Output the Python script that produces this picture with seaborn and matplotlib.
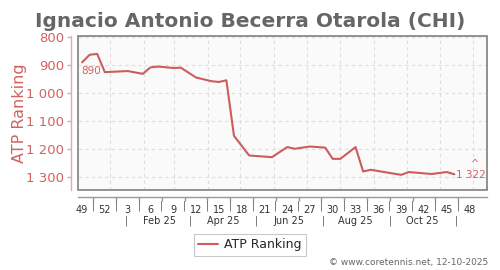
import datetime as dt
import matplotlib
matplotlib.use("Agg")
import matplotlib.pyplot as plt
import matplotlib.ticker as mticker
from matplotlib.patches import Rectangle
import pandas as pd
import seaborn as sns

# ---- data ----
title = "Ignacio Antonio Becerra Otarola (CHI)"
weeks = ["2024-W49", "2024-W50", "2024-W51", "2024-W52", "2025-W03", "2025-W05",
         "2025-W06", "2025-W07", "2025-W09", "2025-W10", "2025-W12", "2025-W14",
         "2025-W15", "2025-W16", "2025-W17", "2025-W19", "2025-W22", "2025-W24",
         "2025-W25", "2025-W27", "2025-W29", "2025-W30", "2025-W31", "2025-W33",
         "2025-W34", "2025-W35", "2025-W39", "2025-W40", "2025-W43", "2025-W45",
         "2025-W46"]
ranking = [890, 863, 860, 925, 921, 931, 908, 905, 910, 909, 944, 957,
           960, 954, 1152, 1222, 1228, 1192, 1198, 1190, 1194, 1234, 1234,
           1192, 1279, 1273, 1291, 1281, 1288, 1281, 1289]
week_tick_labels = ["49", "52", "3", "6", "9", "12", "15", "18", "21", "24",
                    "27", "30", "33", "36", "39", "42", "45", "48"]
month_labels = ["Feb 25", "Apr 25", "Jun 25", "Aug 25", "Oct 25"]
first_label = "890"
last_label = "1 322"
series_name = "ATP Ranking"
credit = "\u00a9 www.coretennis.net, 12-10-2025"

# ---- helpers ----
ORIGIN = dt.date(2024, 12, 6)


def week_x(label):
    y, w = label.split("-W")
    d = dt.date.fromisocalendar(int(y), int(w), 5)
    return (d - ORIGIN).days / 7


def date_x(d):
    return (d - ORIGIN).days / 7


RED = "#cd5c5c"
TXT_RED = "#d06262"

df = pd.DataFrame({"x": [week_x(w) for w in weeks], series_name: ranking})

sns.set_style("white")
plt.rcParams["font.family"] = ["DejaVu Sans"]

fig = plt.figure(figsize=(5, 2.7), dpi=100)
ax = fig.add_axes([0.156, 0.2963, 0.818, 0.5715])
ax.set_facecolor("#fafafa")

sns.lineplot(data=df, x="x", y=series_name, ax=ax, color=RED, lw=1.5,
             label=series_name, legend=False)

ax.set_xlim(-0.53, 53.3)
ax.set_ylim(1345, 795)

# horizontal grid
ax.set_yticks([800, 900, 1000, 1100, 1200, 1300])
ax.yaxis.set_major_formatter(mticker.FuncFormatter(
    lambda v, p: f"{int(v):,}".replace(",", " ")))
ax.grid(axis="y", color="#dddddd", ls=(0, (3, 3)), lw=0.8)
# vertical grid at month starts
for m in range(1, 13):
    ax.axvline(date_x(dt.date(2025, m, 1)), color="#dddddd", ls=(0, (3, 3)),
               lw=0.8, zorder=0)

# box
for s in ["top", "right"]:
    ax.spines[s].set_visible(False)
ax.add_patch(Rectangle((0, 0), 1, 1, transform=ax.transAxes, fill=False,
                       edgecolor="#808080", lw=1.2, clip_on=False, zorder=5))

# offset axis lines
ax.spines["left"].set_position(("outward", 5))
ax.spines["left"].set_color("#e3aaaa")
ax.spines["left"].set_linewidth(1)
ax.spines["bottom"].set_position(("outward", 5))
ax.spines["bottom"].set_color("#999999")
ax.spines["bottom"].set_linewidth(1)

ax.tick_params(axis="y", colors="#e3aaaa", labelcolor=TXT_RED, labelsize=9.5,
               length=3, width=1, pad=2, left=True)

# x ticks
week_pos = [3 * i for i in range(len(week_tick_labels))]
ax.set_xticks(week_pos)
ax.set_xticklabels(week_tick_labels)
ax.tick_params(axis="x", length=0, labelsize=7, labelcolor="#333333", pad=6,
               bottom=True)
sep_pos = [p + 1.5 for p in week_pos[:-1]]
ax.set_xticks(sep_pos, minor=True)
ax.tick_params(axis="x", which="minor", length=3, color="#999999", width=1,
               bottom=True)
tr = ax.get_xaxis_transform()
for p in sep_pos:
    ax.text(p, -0.1, "|", transform=tr, ha="center", va="center",
            fontsize=7, color="#555555")

# month row
for i, lab in enumerate(month_labels):
    ax.text(date_x(dt.date(2025, 2 + 2 * i, 15)), -0.2, lab, transform=tr,
            ha="center", va="center", fontsize=7, color="#333333")
for m in [1, 3, 5, 7, 9, 11]:
    ax.text(date_x(dt.date(2025, m, 16)), -0.2, "|", transform=tr,
            ha="center", va="center", fontsize=7, color="#555555")

ax.set_xlabel("")
ax.set_ylabel(series_name, color=TXT_RED, fontsize=11.5)
ax.yaxis.set_label_coords(-0.125, 0.5)

# point annotations
x0, y0 = df["x"].iloc[0], df[series_name].iloc[0]
ax.annotate(first_label, (x0, y0), xytext=(9, -9), textcoords="offset pixels",
            ha="center", va="center", fontsize=7.5, color=TXT_RED)
x1, y1 = df["x"].iloc[-1], df[series_name].iloc[-1]
ax.annotate(last_label, (x1, y1), xytext=(17, -1), textcoords="offset pixels",
            ha="center", va="center", fontsize=7.5, color=TXT_RED)
ax.annotate("^", (x1, y1), xytext=(21, 10), textcoords="offset pixels",
            ha="center", va="center", fontsize=7, color=TXT_RED)
ax.annotate(",", (x1, y1), xytext=(32, -12), textcoords="offset pixels",
            ha="center", va="center", fontsize=5, color=TXT_RED)

fig.suptitle(title, x=0.5, y=0.955, fontsize=14.5, fontweight="bold",
             color="#666666")

h, l = ax.get_legend_handles_labels()
leg = fig.legend(h, l, loc="center", bbox_to_anchor=(0.5, 0.093), fontsize=9,
                 frameon=True, fancybox=False, edgecolor="#bbbbbb",
                 handlelength=1.6, borderpad=0.35, handletextpad=0.5)
leg.get_frame().set_linewidth(0.8)

fig.text(0.976, 0.027, credit, ha="right", va="center", fontsize=6.5,
         color="#666666")

fig.savefig("out.png", dpi=100)
